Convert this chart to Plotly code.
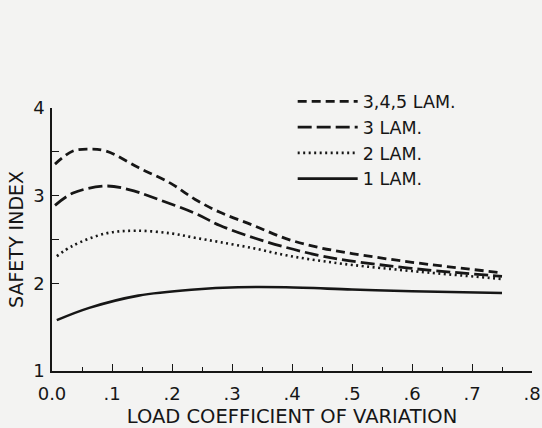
import plotly.graph_objects as go

# Data
x_345 = [0.005, 0.035, 0.062, 0.09, 0.144, 0.198, 0.238, 0.28, 0.336, 0.39, 0.444, 0.5, 0.6, 0.75]
y_345 = [3.36, 3.51, 3.53, 3.51, 3.32, 3.14, 2.96, 2.81, 2.66, 2.51, 2.41, 2.34, 2.24, 2.12]

x_3 = [0.005, 0.035, 0.09, 0.128, 0.172, 0.238, 0.28, 0.336, 0.39, 0.444, 0.494, 0.6, 0.75]
y_3 = [2.89, 3.03, 3.11, 3.07, 2.97, 2.80, 2.66, 2.52, 2.41, 2.32, 2.26, 2.17, 2.08]

x_2 = [0.008, 0.035, 0.09, 0.14, 0.198, 0.238, 0.28, 0.336, 0.39, 0.444, 0.5, 0.6, 0.75]
y_2 = [2.31, 2.43, 2.57, 2.60, 2.57, 2.52, 2.47, 2.40, 2.32, 2.26, 2.21, 2.14, 2.05]

x_1 = [0.008, 0.062, 0.144, 0.238, 0.31, 0.39, 0.5, 0.6, 0.75]
y_1 = [1.58, 1.72, 1.86, 1.93, 1.955, 1.955, 1.93, 1.91, 1.89]

series_names = ["3,4,5 LAM.", "3 LAM.", "2 LAM.", "1 LAM."]

x_tickvals = [0, 0.1, 0.2, 0.3, 0.4, 0.5, 0.6, 0.7, 0.8]
x_ticktext = ["0.0", ".1", ".2", ".3", ".4", ".5", ".6", ".7", ".8"]
y_tickvals = [1, 2, 2.5, 3, 3.5, 4]
y_ticktext = ["1", "2", "", "3", "", "4"]

INK = "#161616"
BG = "#f3f3f2"
FONT = "DejaVu Sans"

fig = go.Figure()
styles = [
    ("9px,5px", 2.8),
    ("14px,5px", 2.8),
    ("2px,3.5px", 2.6),
    ("solid", 2.6),
]
for (xs, ys), name, (dash, w) in zip(
    [(x_345, y_345), (x_3, y_3), (x_2, y_2), (x_1, y_1)], series_names, styles
):
    fig.add_trace(go.Scatter(
        x=xs, y=ys, mode="lines", name=name,
        line=dict(color=INK, width=w, dash=dash, shape="spline", smoothing=1.0),
    ))

fig.update_layout(
    width=542, height=428,
    paper_bgcolor=BG, plot_bgcolor=BG,
    margin=dict(l=52, r=10, t=108, b=57, autoexpand=False),
    font=dict(family=FONT, color=INK, size=18),
    showlegend=True,
    legend=dict(
        x=0.54, y=0.805, xref="container", yref="container",
        xanchor="left", yanchor="top",
        bgcolor="rgba(0,0,0,0)", font=dict(size=17.5, family=FONT, color=INK),
        itemwidth=60, tracegroupgap=0,
    ),
    xaxis=dict(
        range=[0, 0.8], showgrid=False, zeroline=False, automargin=False,
        showline=True, linecolor=INK, linewidth=1.6,
        ticks="inside", ticklen=7, tickwidth=1.4, tickcolor=INK,
        tickvals=x_tickvals, ticktext=x_ticktext, ticklabelstandoff=6,
        tickfont=dict(size=18, family=FONT, color=INK),
        minor=dict(ticks="inside", ticklen=4, dtick=0.05, tick0=0, tickcolor=INK, tickwidth=1.4, showgrid=False),
        title=dict(text="LOAD COEFFICIENT OF VARIATION", font=dict(size=19.5, family=FONT, color=INK), standoff=6),
    ),
    yaxis=dict(
        range=[1, 4], showgrid=False, zeroline=False, automargin=False,
        showline=True, linecolor=INK, linewidth=1.6,
        ticks="inside", ticklen=7, tickwidth=1.4, tickcolor=INK,
        tickvals=y_tickvals, ticktext=y_ticktext, ticklabelstandoff=2,
        tickfont=dict(size=18, family=FONT, color=INK),
        title=dict(text="SAFETY INDEX", font=dict(size=19, family=FONT, color=INK), standoff=4),
    ),
)

fig.write_html(
    "out.html",
    config={"displayModeBar": False},
    post_script="document.body.style.margin='0';document.body.style.background='" + BG + "';",
)
